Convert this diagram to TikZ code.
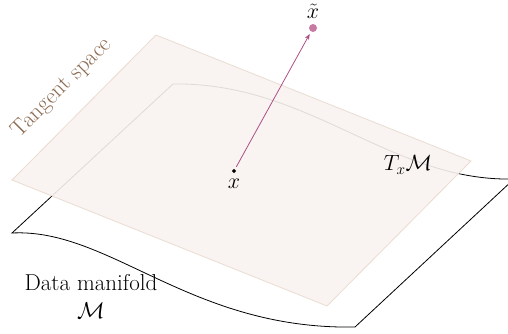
\RequirePackage{fix-cm}
\documentclass[tikz,border=0pt]{standalone}
\usetikzlibrary{shapes.geometric,arrows.meta}
\definecolor{planefill}{HTML}{F8F2EF}
\definecolor{planeedge}{HTML}{EADCD0}
\definecolor{arrowc}{HTML}{AC5085}
\definecolor{dotc}{HTML}{C77BA3}
\definecolor{tanc}{HTML}{8C6B52}
\begin{document}
\begin{tikzpicture}[x=1pt,y=-1pt,
  manifold/.style={draw=black,line width=0.8pt,line join=miter},
  plane/.style={fill=planefill,fill opacity=0.9,draw=planeedge,line width=0.8pt},
  lbl/.style={inner sep=0pt,font=\fontsize{23}{28}\selectfont},
  mlbl/.style={inner sep=0pt,font=\fontsize{22}{26}\selectfont},
  pt/.style={diamond,fill=black,inner sep=0pt,minimum size=4.5pt},
  dotpt/.style={circle,fill=dotc,inner sep=0pt,minimum size=8pt},
  vec/.style={draw=arrowc,line width=0.8pt,-{Stealth[length=6pt,width=4.5pt]}}]
\useasboundingbox (0,0) rectangle (508,333);
\clip (0,0) rectangle (508,333);
% manifold corners
\coordinate (mL) at (12,233);
\coordinate (mT) at (173,84);
\coordinate (mR) at (514,179);
\coordinate (mB) at (355,327);
% plane corners
\coordinate (pT) at (156,35);
\coordinate (pR) at (471,161);
\coordinate (pB) at (327,306);
\coordinate (pL) at (12,180);
% data manifold
\draw[manifold] (mL) -- (mT) .. controls (310,82) and (390,182) .. (mR)
  -- (mB) .. controls (190,330) and (110,228) .. (mL) -- cycle;
% tangent plane
\path[plane] (pT) -- (pR) -- (pB) -- (pL) -- cycle;
% points and vector
\node[pt] (x) at (234,171) {};
\node[dotpt] (xt) at (313,28) {};
\draw[vec,shorten <=3pt,shorten >=2.5pt] (x) -- (xt);
% labels
\node[mlbl] (xl) at (234,184) {$x$};
\node[mlbl] (xtl) at (313,11) {$\tilde{x}$};
\node[mlbl] (tx) at (408,165) {$T_x\mathcal{M}$};
\node[lbl,rotate=45,text=tanc] (ts) at (62,88) {Tangent space};
\node[lbl,align=center,font=\fontsize{23}{28}\selectfont] (dm) at (91,296) {Data manifold\\$\mathcal{M}$};
\end{tikzpicture}
\end{document}
